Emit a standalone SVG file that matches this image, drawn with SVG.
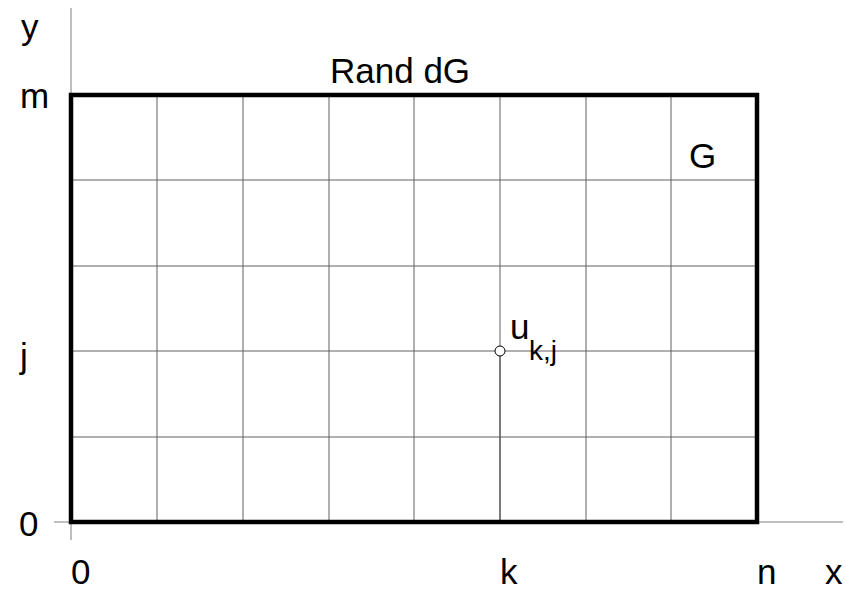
<svg xmlns="http://www.w3.org/2000/svg" width="846" height="592" viewBox="0 0 846 592">
<style>
.grid{stroke:#606060;stroke-width:1;fill:none}
.axis{stroke:#808080;stroke-width:1;fill:none}
.border{stroke:#000;stroke-width:4.5;fill:none;stroke-linejoin:miter}
text{font-family:"Liberation Sans",Arial,sans-serif;font-size:35px;fill:#000}
.sub{font-size:28px}
</style>
<rect width="846" height="592" fill="#fff"/>
<g id="connectors">
<line class="axis" x1="71" y1="8" x2="71" y2="540"/>
<line class="axis" x1="54" y1="522" x2="843" y2="522"/>
</g>
<g id="grid">
<line class="grid" x1="157" y1="95" x2="157" y2="522"/>
<line class="grid" x1="243" y1="95" x2="243" y2="522"/>
<line class="grid" x1="329" y1="95" x2="329" y2="522"/>
<line class="grid" x1="414" y1="95" x2="414" y2="522"/>
<line class="grid" x1="500" y1="95" x2="500" y2="346"/>
<line x1="500" y1="356" x2="500" y2="522" stroke="#222" stroke-width="1.2"/>
<line class="grid" x1="586" y1="95" x2="586" y2="522"/>
<line class="grid" x1="671" y1="95" x2="671" y2="522"/>
<line class="grid" x1="71" y1="180" x2="757" y2="180"/>
<line class="grid" x1="71" y1="266" x2="757" y2="266"/>
<line class="grid" x1="71" y1="351" x2="495" y2="351"/>
<line class="grid" x1="505" y1="351" x2="757" y2="351"/>
<line class="grid" x1="71" y1="437" x2="757" y2="437"/>
</g>
<g id="G">
<rect class="border" x="71" y="95" width="686" height="427"/>
<text x="689" y="168">G</text>
<text x="330" y="83">Rand dG</text>
</g>
<g id="u">
<circle cx="500" cy="351" r="5" fill="none" stroke="#000" stroke-width="1"/>
<text x="510" y="339">u</text>
<text class="sub" x="529" y="360">k,j</text>
</g>
<g id="labels">
<text x="21" y="39">y</text>
<text x="20" y="108">m</text>
<text x="20" y="368">j</text>
<text x="19" y="536">0</text>
<text x="71" y="584">0</text>
<text x="500" y="584">k</text>
<text x="757" y="584">n</text>
<text x="825" y="584">x</text>
</g>
</svg>
